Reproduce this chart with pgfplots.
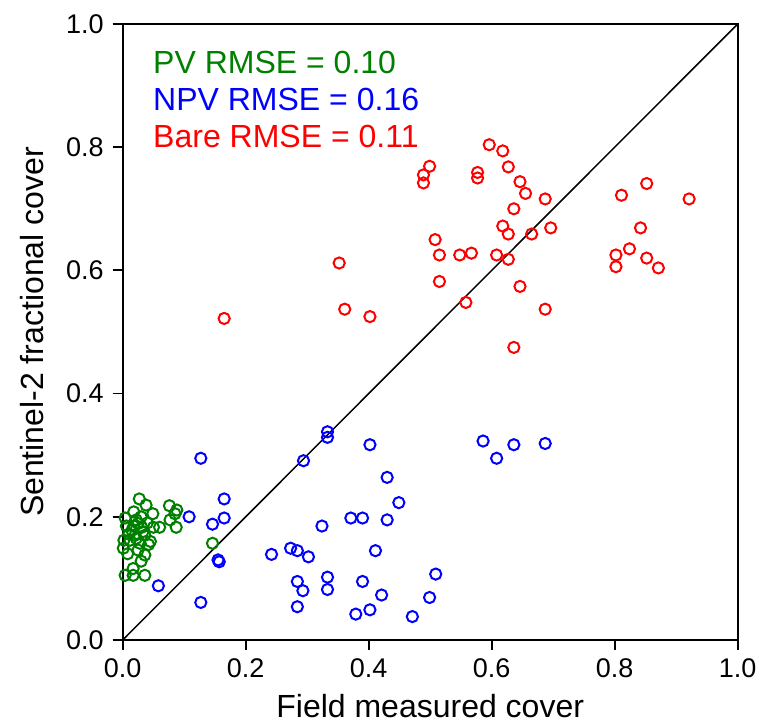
\documentclass[border=0pt]{standalone}
\usepackage{fontspec}
\setmainfont{Liberation Sans}
\usepackage{pgfplots}
\pgfplotsset{compat=1.18}
\definecolor{mplgreen}{rgb}{0,0.5,0}
\begin{document}
\begin{tikzpicture}
\begin{axis}[
  name=ax,
  scale only axis,
  width=307.5pt, height=308pt,
  xmin=0, xmax=1, ymin=0, ymax=1,
  xtick={0,0.2,...,1.0}, ytick={0,0.2,...,1.0},
  xtick pos=left, ytick pos=left,
  tick align=outside,
  major tick length=5pt,
  axis line style={line width=1pt},
  every tick/.style={black, line width=0.9pt},
  /pgf/number format/assume math mode=true,
  /pgf/number format/fixed, /pgf/number format/fixed zerofill, /pgf/number format/precision=1,
  tick label style={font=\fontsize{13.5pt}{16pt}\selectfont},
  xticklabel style={yshift=-1pt},
  yticklabel style={xshift=-1pt},
  label style={font=\fontsize{16pt}{19pt}\selectfont},
  xlabel={Field measured cover},
  ylabel={Sentinel-2 fractional cover},
  xlabel style={yshift=-1pt},
  ylabel style={yshift=4.5pt},
  every axis plot/.append style={only marks, mark=o, mark size=2.8pt, line width=1pt},
]
\addplot[black, no marks, only marks=false, sharp plot, line width=0.75pt] coordinates {(0,0) (1,1)};
% PV
\addplot[mplgreen, mark options={mplgreen}] coordinates {
(0.027,0.229) (0.038,0.219) (0.018,0.208) (0.049,0.205) (0.076,0.218) (0.088,0.211)
(0.085,0.205) (0.077,0.195) (0.087,0.183) (0.060,0.183) (0.050,0.183) (0.004,0.198)
(0.006,0.185) (0.025,0.189) (0.031,0.183) (0.020,0.170) (0.036,0.170) (0.002,0.162)
(0.012,0.162) (0.028,0.157) (0.001,0.149) (0.025,0.146) (0.036,0.138) (0.017,0.116)
(0.017,0.105) (0.004,0.105) (0.036,0.105) (0.146,0.157) (0.015,0.178) (0.022,0.195)
(0.030,0.200) (0.010,0.172) (0.040,0.190) (0.033,0.176) (0.018,0.185) (0.045,0.160)
(0.008,0.140) (0.030,0.128) (0.042,0.155) (0.022,0.165)
};
% NPV
\addplot[blue, mark options={blue}] coordinates {
(0.333,0.338) (0.333,0.329) (0.294,0.291) (0.402,0.317) (0.586,0.323) (0.608,0.295)
(0.636,0.317) (0.687,0.319) (0.430,0.264) (0.449,0.223) (0.371,0.198) (0.390,0.198)
(0.430,0.195) (0.324,0.185) (0.242,0.139) (0.273,0.149) (0.284,0.145) (0.302,0.135)
(0.411,0.145) (0.284,0.095) (0.293,0.080) (0.333,0.102) (0.333,0.082) (0.284,0.054)
(0.390,0.095) (0.421,0.073) (0.379,0.042) (0.402,0.049) (0.471,0.038) (0.499,0.069)
(0.509,0.107) (0.127,0.295) (0.165,0.229) (0.165,0.198) (0.108,0.200) (0.146,0.188)
(0.155,0.130) (0.157,0.127) (0.058,0.088) (0.127,0.061)
};
% Bare
\addplot[red, mark options={red}] coordinates {
(0.165,0.522) (0.352,0.612) (0.361,0.537) (0.402,0.525) (0.489,0.755) (0.489,0.742)
(0.499,0.769) (0.508,0.650) (0.515,0.625) (0.515,0.582) (0.548,0.625) (0.558,0.548)
(0.567,0.628) (0.577,0.759) (0.577,0.750) (0.596,0.804) (0.608,0.625) (0.618,0.794)
(0.618,0.672) (0.627,0.768) (0.627,0.659) (0.627,0.618) (0.636,0.700) (0.636,0.475)
(0.646,0.744) (0.646,0.574) (0.655,0.725) (0.665,0.659) (0.687,0.716) (0.687,0.537)
(0.696,0.669) (0.802,0.625) (0.802,0.606) (0.811,0.722) (0.824,0.635) (0.842,0.669)
(0.852,0.741) (0.852,0.620) (0.871,0.604) (0.921,0.716)
};
\node[anchor=west, inner sep=0pt, text=mplgreen, font=\fontsize{16pt}{19pt}\selectfont] at (axis cs:0.049,0.937) {PV RMSE = 0.10};
\node[anchor=west, inner sep=0pt, text=blue, font=\fontsize{16pt}{19pt}\selectfont] at (axis cs:0.049,0.877) {NPV RMSE = 0.16};
\node[anchor=west, inner sep=0pt, text=red, font=\fontsize{16pt}{19pt}\selectfont] at (axis cs:0.049,0.817) {Bare RMSE = 0.11};
\end{axis}
\pgfresetboundingbox
\path (ax.south west) ++(-61.35pt,-41.5pt) coordinate (bl);
\path (ax.north east) ++(11.65pt,12pt) coordinate (tr);
\path[use as bounding box] (bl) rectangle (tr);
\end{tikzpicture}
\end{document}
